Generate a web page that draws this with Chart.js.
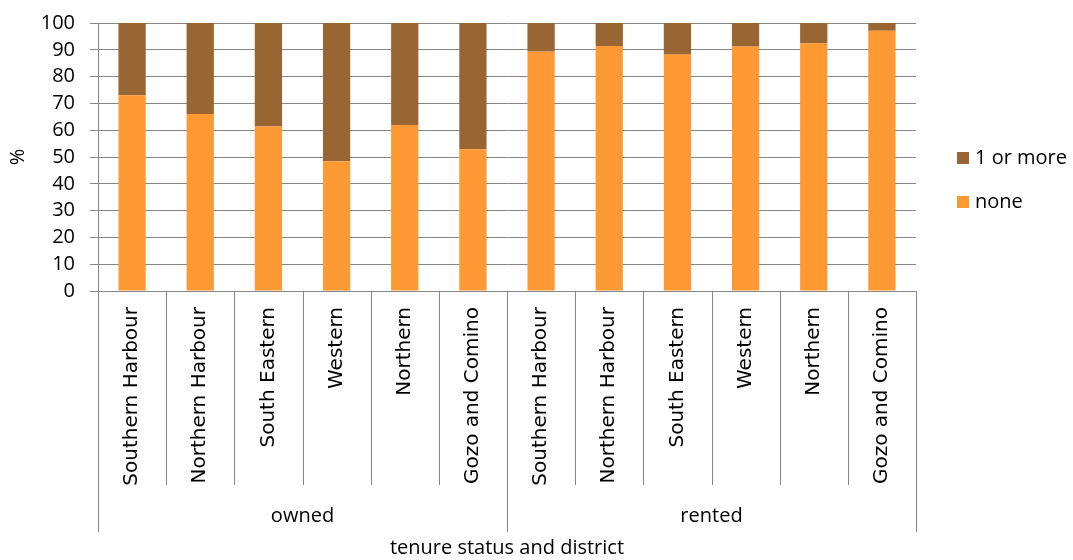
<!DOCTYPE html>
<html>
<head>
<meta charset="utf-8">
<script src="https://cdn.jsdelivr.net/npm/chart.js@4.4.1/dist/chart.umd.min.js"></script>
<style>
  html, body { margin: 0; padding: 0; background: #fff; }
  #wrap { position: relative; width: 1073px; height: 560px; }
  .leg { position: absolute; left: 957px; font: 20px "Open Sans", sans-serif; color: #000; line-height: 24px; white-space: nowrap; }
  .leg span { display: inline-block; width: 12px; height: 12px; margin-right: 6px; vertical-align: 0px; }
</style>
</head>
<body>
<div id="wrap">
  <canvas id="chart" width="1073" height="560"></canvas>
  <div class="leg" style="top:145px"><span style="background:#996633"></span>1 or more</div>
  <div class="leg" style="top:189px"><span style="background:#FF9933"></span>none</div>
</div>
<script>
// data
const tenure = ['owned', 'rented'];
const districts = ['Southern Harbour', 'Northern Harbour', 'South Eastern', 'Western', 'Northern', 'Gozo and Comino'];
const noneValues = [73.0, 66.0, 61.4, 48.4, 61.9, 52.9, 89.3, 91.4, 88.2, 91.2, 92.4, 97.1];
const oneOrMoreValues = [27.0, 34.0, 38.6, 51.6, 38.1, 47.1, 10.7, 8.6, 11.8, 8.8, 7.6, 2.9];
const yTicks = [0, 10, 20, 30, 40, 50, 60, 70, 80, 90, 100];

const labels = tenure.flatMap(() => districts);
const gridColor = '#868686';

// draws the category separators and the tenure row under the axis
const groupAxis = {
  id: 'groupAxis',
  afterDraw(chart) {
    const x = chart.scales.x;
    const ctx = chart.ctx;
    const n = labels.length;
    const edges = [];
    for (let i = 0; i <= n; i++) {
      if (i === 0) edges.push(x.left);
      else if (i === n) edges.push(x.right);
      else edges.push((x.getPixelForValue(i - 1) + x.getPixelForValue(i)) / 2);
    }
    ctx.save();
    ctx.strokeStyle = gridColor;
    ctx.lineWidth = 1;
    edges.forEach((ex, i) => {
      const isGroup = i % districts.length === 0;
      const px = Math.round(ex) + 0.5;
      ctx.beginPath();
      ctx.moveTo(px, x.top);
      ctx.lineTo(px, x.top + (isGroup ? 241 : 194));
      ctx.stroke();
    });
    ctx.fillStyle = '#000';
    ctx.font = '20px "Open Sans"';
    ctx.textAlign = 'center';
    ctx.textBaseline = 'middle';
    tenure.forEach((t, g) => {
      const a = edges[g * districts.length];
      const b = edges[(g + 1) * districts.length];
      ctx.fillText(t, (a + b) / 2, x.top + 225);
    });
    ctx.restore();
  }
};

new Chart(document.getElementById('chart'), {
  type: 'bar',
  data: {
    labels: labels,
    datasets: [
      { label: 'none', data: noneValues, backgroundColor: '#FF9933', barPercentage: 0.4, categoryPercentage: 1 },
      { label: '1 or more', data: oneOrMoreValues, backgroundColor: '#996633', barPercentage: 0.4, categoryPercentage: 1 }
    ]
  },
  options: {
    responsive: false,
    animation: false,
    layout: { padding: { top: 10, right: 157, bottom: 0, left: 0 } },
    plugins: { legend: { display: false }, tooltip: { enabled: false } },
    scales: {
      x: {
        stacked: true,
        grid: { display: false, drawTicks: false },
        border: { display: false },
        ticks: {
          autoSkip: false, minRotation: 90, maxRotation: 90, padding: 16,
          color: '#000', font: { family: 'DejaVu Sans', size: 20 }
        },
        title: {
          display: true, text: 'tenure status and district', color: '#000',
          font: { family: 'Open Sans', size: 20 }, padding: { top: 0, bottom: 0 }
        },
        afterFit(scale) { scale.height = 269; }
      },
      y: {
        stacked: true,
        min: 0, max: 100,
        afterBuildTicks(scale) { scale.ticks = yTicks.map(v => ({ value: v })); },
        grid: { color: gridColor, lineWidth: 1, tickLength: 8 },
        border: { display: true, color: gridColor },
        ticks: { autoSkip: false, stepSize: 10, padding: 15, color: '#000', font: { family: 'Open Sans', size: 20, lineHeight: 0.8 } },
        title: {
          display: true, text: '%', color: '#000',
          font: { family: 'Open Sans', size: 20 }, padding: { top: 6, bottom: 0 }
        },
        afterFit(scale) { scale.width = 98; }
      }
    }
  },
  plugins: [groupAxis]
});
</script>
</body>
</html>
